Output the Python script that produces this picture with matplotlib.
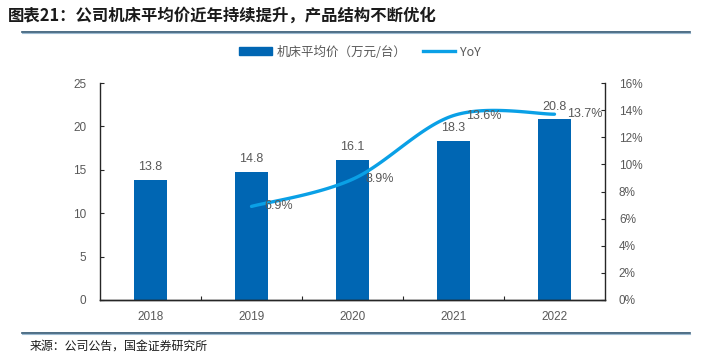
import numpy as np
import matplotlib
matplotlib.use("Agg")
import matplotlib.pyplot as plt
from matplotlib.lines import Line2D

plt.rcParams["font.family"] = ["Liberation Sans", "Noto Sans CJK SC", "DejaVu Sans"]

years = ["2018", "2019", "2020", "2021", "2022"]
price = [13.8, 14.8, 16.1, 18.3, 20.8]
yoy_years = ["2019", "2020", "2021", "2022"]
yoy = [6.9, 8.9, 13.6, 13.7]

BAR = "#0066b3"
LINE = "#0aa0e6"
GRAY = "#595959"


def catmull_rom(xs, ys, n=40):
    # Excel-like smoothed line through the points
    xs = np.asarray(xs, float)
    ys = np.asarray(ys, float)
    px = np.concatenate([[xs[0]], xs, [xs[-1]]])
    py = np.concatenate([[ys[0]], ys, [ys[-1]]])
    outx, outy = [], []
    for i in range(1, len(px) - 2):
        p0, p1, p2, p3 = [np.array([px[j], py[j]]) for j in (i - 1, i, i + 1, i + 2)]
        c1 = p1 + (p2 - p0) / 6
        c2 = p2 - (p3 - p1) / 6
        t = np.linspace(0, 1, n)[:, None]
        b = (1 - t) ** 3 * p1 + 3 * (1 - t) ** 2 * t * c1 + 3 * (1 - t) * t ** 2 * c2 + t ** 3 * p2
        outx.extend(b[:, 0])
        outy.extend(b[:, 1])
    return np.array(outx), np.array(outy)


fig = plt.figure(figsize=(7.02, 3.59), dpi=100)
ax = fig.add_axes([100 / 702, 1 - 300 / 359, 505 / 702, 217 / 359])
ax2 = ax.twinx()

x = np.arange(len(years))
bars = ax.bar(x, price, width=0.33, color=BAR, zorder=2)
for xi, v in zip(x, price):
    ax.annotate(f"{v:.1f}", (xi, v), xytext=(0, 5), textcoords="offset points",
                ha="center", va="bottom", fontsize=9, color=GRAY)

ax.set_xlim(-0.5, len(years) - 0.5)
ax.set_ylim(0, 25)
ax.set_yticks(range(0, 26, 5))
ax.set_xticks(x)
ax.set_xticklabels(years)
ax.set_xticks(np.arange(0.5, len(years) - 1, 1), minor=True)

# line in normalised units so the smoothing follows the drawn shape
xi_line = np.array([years.index(y) for y in yoy_years], float)
sx, sy = catmull_rom(xi_line / 5, np.array(yoy) / 16)
ax2.plot(sx * 5, sy * 16, color=LINE, lw=2.4, solid_capstyle="round", zorder=3)
for xv, v in zip(xi_line, yoy):
    ax2.annotate(f"{v:.1f}%", (xv, v), xytext=(9, 0), textcoords="offset points",
                 ha="left", va="center", fontsize=9, color=GRAY)
ax2.set_ylim(0, 16)
ax2.set_yticks(range(0, 17, 2))
ax2.set_yticklabels([f"{v}%" for v in range(0, 17, 2)])

for a in (ax, ax2):
    a.spines["top"].set_visible(False)
    for s in a.spines.values():
        s.set_color("#262626")
        s.set_linewidth(1.0)
    a.tick_params(axis="y", direction="in", length=3, width=0.8, colors="#262626",
                  labelcolor=GRAY, labelsize=8.5, pad=10)
ax.spines["right"].set_visible(False)
ax2.spines["left"].set_visible(False)
ax.tick_params(axis="x", which="major", length=0, labelcolor=GRAY, labelsize=8.5, pad=8)
ax.tick_params(axis="x", which="minor", direction="in", length=3, width=0.8, colors="#262626")

handles = [plt.Rectangle((0, 0), 1, 1, color=BAR), Line2D([0], [0], color=LINE, lw=2.4)]
fig.legend(handles, ["机床平均价（万元/台）", "YoY"], loc="center",
           bbox_to_anchor=(360 / 702, 1 - 52 / 359), ncol=2, frameon=False,
           labelcolor=GRAY, handlelength=2.6, handleheight=0.6,
           columnspacing=1.3, handletextpad=0.4,
           prop={"family": ["Noto Sans CJK SC", "Liberation Sans"], "size": 9})

fig.text(8 / 702, 1 - 16 / 359, "图表21：公司机床平均价近年持续提升，产品结构不断优化",
         fontsize=11.8, fontweight="bold", fontstyle="italic", color="#1a1a1a",
         va="center", ha="left", family=["Noto Sans CJK SC", "DejaVu Sans"])
fig.text(30 / 702, 1 - 346 / 359, "来源：公司公告，国金证券研究所", fontsize=8.6,
         color="#1a1a1a", va="center", ha="left", family=["Noto Sans CJK SC", "DejaVu Sans"])

# header and footer rules
for yy in (32, 333):
    fig.add_artist(Line2D([22 / 702, 690 / 702], [1 - yy / 359] * 2, color="#2e5470", lw=1.2))
    fig.add_artist(Line2D([22 / 702, 690 / 702], [1 - (yy + 1.3) / 359] * 2, color="#9dbbd2", lw=0.8))

fig.savefig("out.png", dpi=100)
